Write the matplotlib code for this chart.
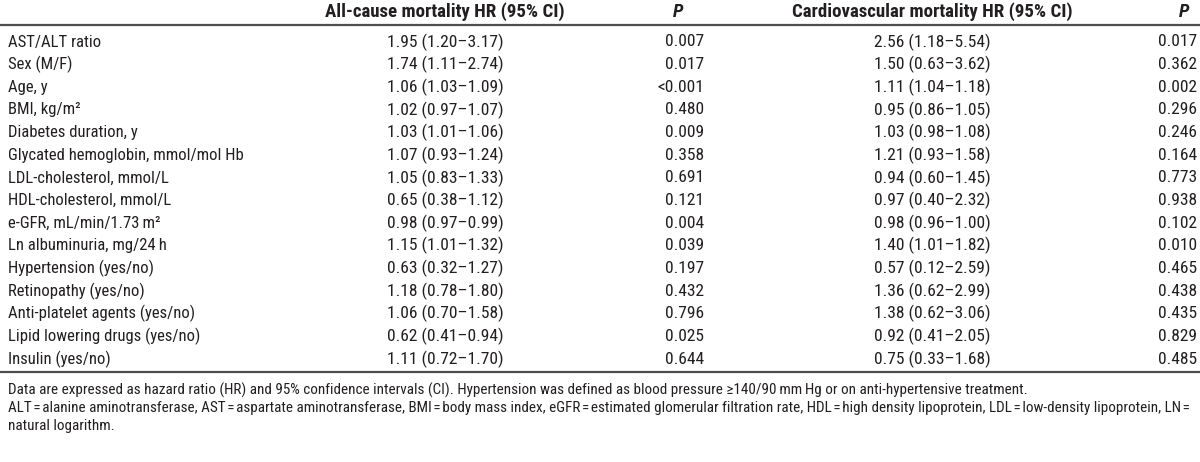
import matplotlib
matplotlib.use("Agg")
import matplotlib.pyplot as plt
from matplotlib import font_manager

# pick a condensed sans close to the Helvetica Condensed of the original
installed = {f.name for f in font_manager.fontManager.ttflist}
candidates = ['Roboto Condensed', 'Archivo Narrow', 'PT Sans Narrow', 'Fira Sans Condensed',
              'Liberation Sans Narrow', 'Liberation Sans']
families = [c for c in candidates if c in installed][:1] + ['DejaVu Sans']
plt.rcParams['font.family'] = families

# table content
headers = ["All-cause mortality HR (95% CI)", "P", "Cardiovascular mortality HR (95% CI)", "P"]
variables = ["AST/ALT ratio", "Sex (M/F)", "Age, y", "BMI, kg/m\u00b2", "Diabetes duration, y",
             "Glycated hemoglobin, mmol/mol Hb", "LDL-cholesterol, mmol/L", "HDL-cholesterol, mmol/L",
             "e-GFR, mL/min/1.73\u2009m\u00b2", "Ln albuminuria, mg/24\u2009h", "Hypertension (yes/no)",
             "Retinopathy (yes/no)", "Anti-platelet agents (yes/no)", "Lipid lowering drugs (yes/no)",
             "Insulin (yes/no)"]
allcause_hr = ["1.95 (1.20\u20133.17)", "1.74 (1.11\u20132.74)", "1.06 (1.03\u20131.09)", "1.02 (0.97\u20131.07)",
               "1.03 (1.01\u20131.06)", "1.07 (0.93\u20131.24)", "1.05 (0.83\u20131.33)", "0.65 (0.38\u20131.12)",
               "0.98 (0.97\u20130.99)", "1.15 (1.01\u20131.32)", "0.63 (0.32\u20131.27)", "1.18 (0.78\u20131.80)",
               "1.06 (0.70\u20131.58)", "0.62 (0.41\u20130.94)", "1.11 (0.72\u20131.70)"]
allcause_p = ["0.007", "0.017", "<0.001", "0.480", "0.009", "0.358", "0.691", "0.121", "0.004",
              "0.039", "0.197", "0.432", "0.796", "0.025", "0.644"]
cardio_hr = ["2.56 (1.18\u20135.54)", "1.50 (0.63\u20133.62)", "1.11 (1.04\u20131.18)", "0.95 (0.86\u20131.05)",
             "1.03 (0.98\u20131.08)", "1.21 (0.93\u20131.58)", "0.94 (0.60\u20131.45)", "0.97 (0.40\u20132.32)",
             "0.98 (0.96\u20131.00)", "1.40 (1.01\u20131.82)", "0.57 (0.12\u20132.59)", "1.36 (0.62\u20132.99)",
             "1.38 (0.62\u20133.06)", "0.92 (0.41\u20132.05)", "0.75 (0.33\u20131.68)"]
cardio_p = ["0.017", "0.362", "0.002", "0.296", "0.246", "0.164", "0.773", "0.938", "0.102",
            "0.010", "0.465", "0.438", "0.435", "0.829", "0.485"]
eq = "\u200a=\u200a"
footnotes = [
    "Data are expressed as hazard ratio (HR) and 95% confidence intervals (CI). Hypertension was defined as blood pressure \u2265140/90\u2009mm\u2009Hg or on anti-hypertensive treatment.",
    "ALT" + eq + "alanine aminotransferase, AST" + eq + "aspartate aminotransferase, BMI" + eq + "body mass index, eGFR" + eq
    + "estimated glomerular filtration rate, HDL" + eq + "high density lipoprotein, LDL" + eq + "low-density lipoprotein, LN" + eq,
    "natural logarithm.",
]

fig = plt.figure(figsize=(12, 4.62), dpi=100)
ax = fig.add_axes([0, 0, 1, 1])
ax.set_xlim(0, 1200)
ax.set_ylim(462, 0)
ax.axis('off')

fs_lab = 12
fs_num = 12.6
fs_head = 13.6
txt_color = '#231f20'

# header
ax.text(445, 12, headers[0], ha='center', va='center', fontsize=fs_head, fontweight='bold', color=txt_color)
ax.text(678, 12, headers[1], ha='center', va='center', fontsize=fs_head, fontweight='bold', style='italic', color=txt_color)
ax.text(932, 12, headers[2], ha='center', va='center', fontsize=fs_head, fontweight='bold', color=txt_color)
ax.text(1184, 12, headers[3], ha='center', va='center', fontsize=fs_head, fontweight='bold', style='italic', color=txt_color)

ax.plot([0, 1200], [24.5, 24.5], color='#4d4d4d', lw=1.6)

y0 = 42
dy = 22.65
for i in range(len(variables)):
    y = y0 + i * dy
    ax.text(8, y, variables[i], ha='left', va='center', fontsize=fs_lab, color=txt_color)
    ax.text(445, y, allcause_hr[i], ha='center', va='center', fontsize=fs_num, color=txt_color)
    ax.text(704, y, allcause_p[i], ha='right', va='center', fontsize=fs_num, color=txt_color)
    ax.text(932, y, cardio_hr[i], ha='center', va='center', fontsize=fs_num, color=txt_color)
    ax.text(1197, y, cardio_p[i], ha='right', va='center', fontsize=fs_num, color=txt_color)

ax.plot([0, 1200], [372, 372], color='#4d4d4d', lw=1.6)

for j, line in enumerate(footnotes):
    ax.text(8, 390 + j * 18, line, ha='left', va='center', fontsize=10.9, color=txt_color)

fig.savefig("out.png", dpi=100)
